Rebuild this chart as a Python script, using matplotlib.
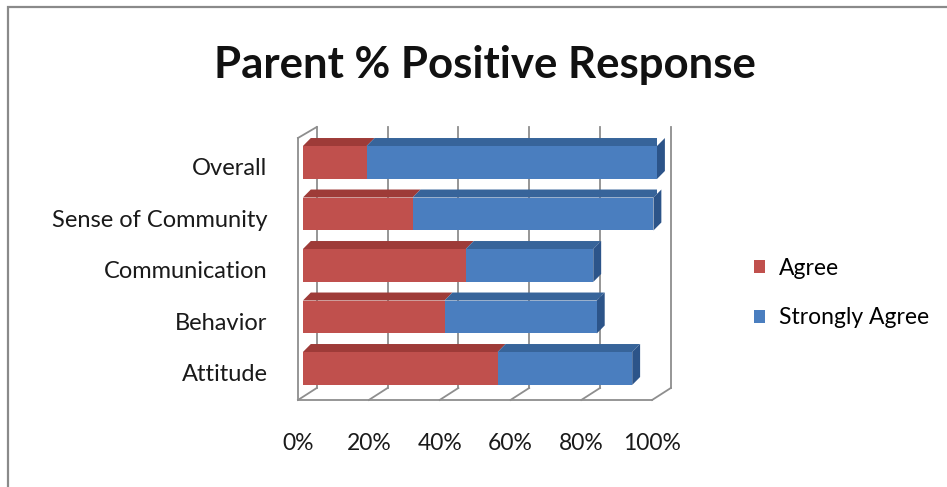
import numpy as np
import matplotlib.pyplot as plt
from matplotlib.patches import Polygon, Rectangle

categories = ["Attitude", "Behavior", "Communication", "Sense of Community", "Overall"]
agree = [55, 40, 46, 31, 18]
strongly_agree = [38, 43, 36, 68, 82]
tick_values = [0, 20, 40, 60, 80, 100]
tick_labels = ["0%", "20%", "40%", "60%", "80%", "100%"]

red = "#C0504D"
red_top = "#9E3B38"
blue = "#4A7EBF"
blue_top = "#37649A"
blue_side = "#2C5489"
wall = "#8E8E8E"

plt.rcParams["font.family"] = ["Lato", "DejaVu Sans"]

fig = plt.figure(figsize=(9.47, 4.87), dpi=100)
fig.patch.set_facecolor("white")

# outer chart border (only top/left visible in frame)
fig.add_artist(Rectangle((8 / 947, -0.05), 1.2, 1 - 7 / 487 + 0.05, transform=fig.transFigure,
                         fill=False, edgecolor="#8A8A8A", lw=1.6))

ax = fig.add_axes([298 / 947, (487 - 400) / 487, 359 / 947, (400 - 127) / 487])
ax.set_xlim(0, 100)
ax.set_ylim(-0.612, 4.689)
for s in ax.spines.values():
    s.set_visible(False)

# wall / floor geometry (front plane and back plane offsets)
fx, fy_floor, fy_top = -1.39, -0.612, 4.476
bx, by_floor, by_top = 3.90, -0.379, 4.689

for v in tick_values:
    ax.plot([bx + v, bx + v], [by_floor, by_top], color=wall, lw=1.3, zorder=1, clip_on=False)
    ax.plot([fx + v, bx + v], [fy_floor, by_floor], color=wall, lw=1.3, zorder=1, clip_on=False)
ax.plot([fx, fx + 100], [fy_floor, fy_floor], color=wall, lw=1.3, zorder=1, clip_on=False)
ax.plot([fx, fx], [fy_floor, fy_top], color=wall, lw=1.3, zorder=1, clip_on=False)
ax.plot([fx, bx], [fy_top, by_top], color=wall, lw=1.3, zorder=1, clip_on=False)

# bars
y = np.arange(len(categories))
h = 0.64
ddx, ddy = 2.23, 0.155

ax.barh(y, agree, height=h, color=red, label="Agree", zorder=3)
ax.barh(y, strongly_agree, left=agree, height=h, color=blue, label="Strongly Agree", zorder=3)

for i in range(len(categories)):
    a = agree[i]
    total = agree[i] + strongly_agree[i]
    top = i + h / 2
    ax.add_patch(Polygon([(0, top), (a, top), (a + ddx, top + ddy), (ddx, top + ddy)],
                         closed=True, facecolor=red_top, edgecolor="none", zorder=2))
    ax.add_patch(Polygon([(a, top), (total, top), (total + ddx, top + ddy), (a + ddx, top + ddy)],
                         closed=True, facecolor=blue_top, edgecolor="none", zorder=2))
    ax.add_patch(Polygon([(total, i - h / 2), (total, top), (total + ddx, top + ddy),
                          (total + ddx, i - h / 2 + ddy)],
                         closed=True, facecolor=blue_side, edgecolor="none", zorder=2, clip_on=False))

ax.set_yticks(y - 0.08)
ax.set_yticklabels(categories, fontsize=17, color="#1a1a1a")
ax.set_xticks([fx + v for v in tick_values])
ax.set_xticklabels(tick_labels, fontsize=16.5, color="#1a1a1a")
ax.tick_params(axis="y", length=0, pad=22)
ax.tick_params(axis="x", length=0, pad=24)

fig.text(485 / 947, 1 - 65 / 487, "Parent % Positive Response", fontsize=31.5, fontweight="bold",
         ha="center", va="center", color="#111111")

fig.legend(loc="center left", bbox_to_anchor=(754 / 947, 1 - 293 / 487), frameon=False,
           fontsize=16.5, handlelength=0.5, handleheight=0.5, labelspacing=1.25, handletextpad=0.6,
           borderaxespad=0, borderpad=0)

plt.savefig("out.png", dpi=100)
